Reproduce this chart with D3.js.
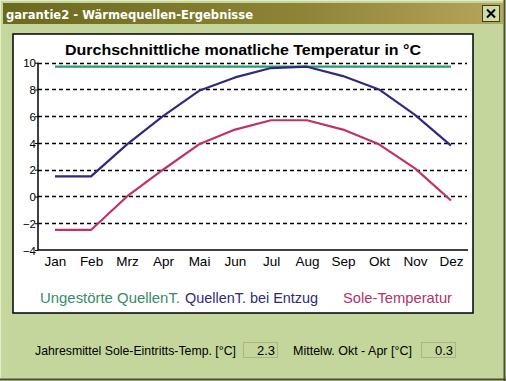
<!DOCTYPE html>
<html><head><meta charset="utf-8">
<script src="https://cdn.jsdelivr.net/npm/d3@7"></script>
<style>
html,body{margin:0;padding:0;background:#c5d69c;}
svg{display:block;}
</style></head><body>
<script>
const months = ["Jan","Feb","Mrz","Apr","Mai","Jun","Jul","Aug","Sep","Okt","Nov","Dez"];
const ungestoert = [9.7,9.7,9.7,9.7,9.7,9.7,9.7,9.7,9.7,9.7,9.7,9.7];
const entzug = [1.5,1.5,3.9,6.0,7.9,8.9,9.6,9.7,9.0,8.0,6.1,3.8];
const sole = [-2.5,-2.5,0.0,2.0,3.9,5.0,5.7,5.7,5.0,3.9,2.1,-0.3];
const yTicks = [-4,-2,0,2,4,6,8,10];
const seriesNames = ["Ungestörte QuellenT.","QuellenT. bei Entzug","Sole-Temperatur"];
const jahresmittel = "2.3";
const mittelOktApr = "0.3";

const W=506,H=381;
const svg=d3.select("body").append("svg").attr("width",W).attr("height",H);
const defs=svg.append("defs");
const g1=defs.append("linearGradient").attr("id","tb");
g1.append("stop").attr("offset","0").attr("stop-color","#6a6a1e");
g1.append("stop").attr("offset","0.6").attr("stop-color","#8e8436");
g1.append("stop").attr("offset","1").attr("stop-color","#b6a65c");

// window
svg.append("rect").attr("x",0).attr("y",0).attr("width",W).attr("height",H).attr("fill","#c5d69c");
svg.append("rect").attr("x",0.5).attr("y",0.5).attr("width",W-1).attr("height",H-1).attr("fill","none").attr("stroke","#e4eccc");
svg.append("line").attr("x1",0).attr("x2",W).attr("y1",H-1.5).attr("y2",H-1.5).attr("stroke","#4a5030").attr("stroke-width",2);
svg.append("line").attr("x1",W-1.5).attr("x2",W-1.5).attr("y1",0).attr("y2",H).attr("stroke","#4a5030").attr("stroke-width",2);
svg.append("rect").attr("x",3).attr("y",3).attr("width",W-6).attr("height",21).attr("fill","url(#tb)");
svg.append("text").attr("x",6).attr("y",19).attr("fill","#ffffff").attr("font-family","'DejaVu Sans',sans-serif").attr("font-weight","bold").attr("font-size",13).attr("textLength",247).attr("lengthAdjust","spacingAndGlyphs").text("garantie2 - Wärmequellen-Ergebnisse");
// close button
svg.append("rect").attr("x",482.5).attr("y",5.5).attr("width",17).attr("height",16).attr("fill","#cfdca8").attr("stroke","#3c4020");
svg.append("path").attr("d","M487,9.5 L495,17.5 M495,9.5 L487,17.5").attr("stroke","#000").attr("stroke-width",2);

// panel
svg.append("rect").attr("x",13).attr("y",34).attr("width",460).attr("height",279).attr("fill","#ffffff").attr("stroke","#000").attr("stroke-width",1.5);

const x=d3.scalePoint().domain(months).range([55,451]);
const y=d3.scaleLinear().domain([-4,10]).range([250,62.7]);
const xLeft=38, xRight=467;

svg.append("text").attr("x",65).attr("y",55).attr("font-family","'Liberation Sans',Arial,sans-serif").attr("font-weight","bold").attr("font-size",15.5).attr("fill","#000").attr("textLength",356).attr("lengthAdjust","spacingAndGlyphs").text("Durchschnittliche monatliche Temperatur in °C");

// grid
svg.append("g").selectAll("line").data(yTicks.filter(d=>d>-4)).join("line")
 .attr("x1",xLeft).attr("x2",xRight).attr("y1",d=>Math.round(y(d))+0.5).attr("y2",d=>Math.round(y(d))+0.5)
 .attr("stroke","#000").attr("stroke-width",1.3).attr("stroke-dasharray","4,3");

// y axis
const ya=svg.append("g").attr("transform",`translate(${xLeft},0)`).call(d3.axisLeft(y).tickValues(yTicks).tickSize(3).tickFormat(d3.format("d")));
ya.select(".domain").attr("stroke","#000").attr("stroke-width",1.5).attr("d",`M0,${y(10)}V${y(-4)}`);
ya.selectAll("text").attr("font-family","'Liberation Sans',Arial,sans-serif").attr("font-size",11.5).attr("fill","#000").attr("x",-2).attr("dy","0.35em");
// x axis
const xa=svg.append("g").attr("transform",`translate(0,${y(-4)})`).call(d3.axisBottom(x).tickSize(0).tickPadding(4));
xa.select(".domain").attr("stroke","#000").attr("stroke-width",1.5).attr("d",`M${xLeft},0H468`);
xa.selectAll("text").attr("font-family","'Liberation Sans',Arial,sans-serif").attr("font-size",13.5).attr("fill","#000").attr("dy","0.9em");

const line=d3.line().x((d,i)=>x(months[i])).y(d=>y(d)).curve(d3.curveLinear);
const colors=["#2a9a6c","#2e2a80","#c0306a"];
[ungestoert,entzug,sole].forEach((s,i)=>{
  svg.append("path").datum(s).attr("d",line).attr("fill","none").attr("stroke",colors[i]).attr("stroke-width",2.2).attr("stroke-linejoin","round");
});

// legend
const legX=[40,185,343];
const legW=[140,133,109];
const legCol=["#3a8a6a","#2e2a78","#b03468"];
seriesNames.forEach((n,i)=>{
  svg.append("text").attr("x",legX[i]).attr("y",303).attr("font-family","'Liberation Sans',Arial,sans-serif").attr("font-size",14.5).attr("fill",legCol[i]).attr("textLength",legW[i]).attr("lengthAdjust","spacingAndGlyphs").text(n);
});

// bottom fields
const lf="'Liberation Sans Narrow','Arial Narrow','Liberation Sans',sans-serif";
svg.append("text").attr("x",35).attr("y",355).attr("font-family",lf).attr("font-size",13).attr("fill","#000").attr("textLength",201).attr("lengthAdjust","spacingAndGlyphs").text("Jahresmittel Sole-Eintritts-Temp. [°C]");
svg.append("text").attr("x",293).attr("y",355).attr("font-family",lf).attr("font-size",13).attr("fill","#000").attr("textLength",119).attr("lengthAdjust","spacingAndGlyphs").text("Mittelw. Okt - Apr [°C]");
[[243,jahresmittel],[421,mittelOktApr]].forEach(([bx,v])=>{
  svg.append("rect").attr("x",bx+0.5).attr("y",342.5).attr("width",34).attr("height",15).attr("fill","#c5d69c").attr("stroke","#a8b880");
  svg.append("text").attr("x",bx+32).attr("y",355).attr("text-anchor","end").attr("font-family",lf).attr("font-size",13).attr("fill","#000").text(v);
});
</script>
</body></html>
